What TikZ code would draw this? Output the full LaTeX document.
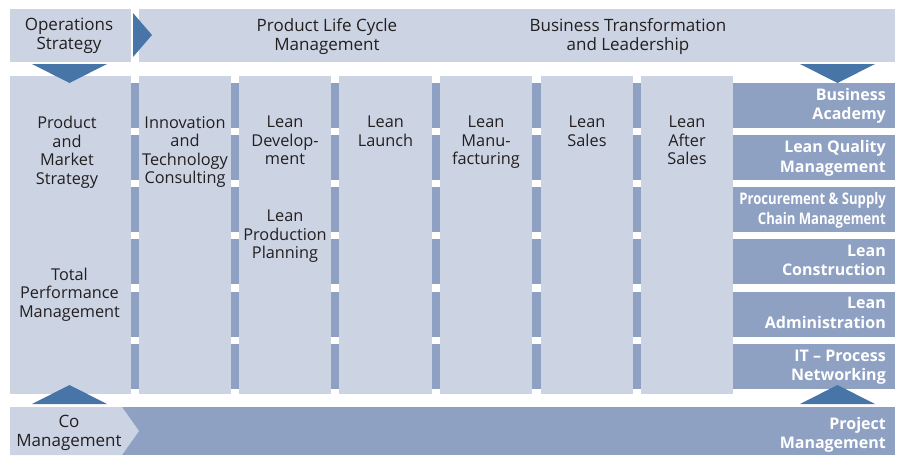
\documentclass[tikz,border=0pt]{standalone}
\usepackage{fontspec}
\setmainfont{Open Sans}
\newfontfamily\condfont[FakeStretch=0.82]{Open Sans}
\definecolor{lightbl}{RGB}{204,212,228}
\definecolor{midbl}{RGB}{142,161,195}
\definecolor{darkbl}{RGB}{72,117,168}
\definecolor{txt}{RGB}{35,31,32}
\tikzset{
  lbl/.style={anchor=north, inner sep=0pt, align=center, text=txt,
    font=\fontsize{16.3}{18.5}\selectfont, execute at begin node={\rule{0pt}{13.5pt}}},
  hlbl/.style={lbl, font=\fontsize{17}{19.3}\selectfont},
  rlbl/.style={anchor=north east, inner sep=0pt, align=right, text=white,
    font=\fontsize{16}{19.5}\selectfont\bfseries, execute at begin node={\rule{0pt}{13.5pt}}},
  lightbox/.style={fill=lightbl},
  midbox/.style={fill=midbl},
  tri/.style={fill=darkbl}
}
\begin{document}
\begin{tikzpicture}[x=1pt,y=-1pt]
\useasboundingbox (0,0) rectangle (900,456);
% top band
\path[lightbox] (10,9) rectangle (131,62);
\path[lightbox] (139,9) rectangle (895,62);
\path[tri] (133,13) -- (152,35) -- (133,57) -- cycle;
% horizontal bands
\foreach \t/\b in {83/128,135/180,187/232,239/284,292/337,344/389}{
  \path[midbox] (131,\t) rectangle (895,\b);
}
% columns
\foreach \l/\r in {10/131,139/231,239/331,339/432,440/532,541/633,641/733}{
  \path[lightbox] (\l,76) rectangle (\r,394);
}
% triangles
\path[tri] (32,64) -- (107,64) -- (69.5,83) -- cycle;
\path[tri] (800,64) -- (875,64) -- (837.5,83) -- cycle;
\path[tri] (32,404) -- (107,404) -- (69.5,385) -- cycle;
\path[tri] (800,404) -- (875,404) -- (837.5,385) -- cycle;
% bottom band
\path[midbox] (122,407) rectangle (895,455);
\path[lightbox] (10,407) -- (122,407) -- (139,431) -- (122,455) -- (10,455) -- cycle;
% header texts
\node[hlbl] (ops) at (69,18) {Operations\\Strategy};
\node[hlbl] (plc) at (327,18) {Product Life Cycle\\Management};
\node[hlbl] (btl) at (628,18) {Business Transformation\\and Leadership};
% column texts
\node[lbl] (pms) at (67,116) {Product\\and\\Market\\Strategy};
\node[lbl] (tpm) at (69.5,267.5) {Total\\Performance\\Management};
\node[lbl] (itc) at (185,116) {Innovation\\and\\Technology\\Consulting};
\node[lbl] (ldev) at (285,116) {Lean\\Develop-\\ment};
\node[lbl] (lpp) at (285,210) {Lean\\Production\\Planning};
\node[lbl] (ll) at (385.5,116) {Lean\\Launch};
\node[lbl] (lm) at (486,116) {Lean\\Manu-\\facturing};
\node[lbl] (ls) at (587,116) {Lean\\Sales};
\node[lbl] (las) at (687,116) {Lean\\After\\Sales};
% right boxes
\node[rlbl] (ba) at (886,88) {Business\\Academy};
\node[rlbl] (lqm) at (886,140.5) {Lean Quality\\Management};
\node[rlbl, font=\fontsize{16}{19.5}\selectfont\condfont\bfseries] (pscm) at (886,192.5) {Procurement \& Supply\\Chain Management};
\node[rlbl] (lc) at (886,244.5) {Lean\\Construction};
\node[rlbl] (la) at (886,297) {Lean\\Administration};
\node[rlbl] (itp) at (886,349.5) {IT – Process\\Networking};
% bottom texts
\node[hlbl] (com) at (69,415) {Co\\Management};
\node[rlbl] (pm) at (886,417) {Project\\Management};
\end{tikzpicture}
\end{document}
